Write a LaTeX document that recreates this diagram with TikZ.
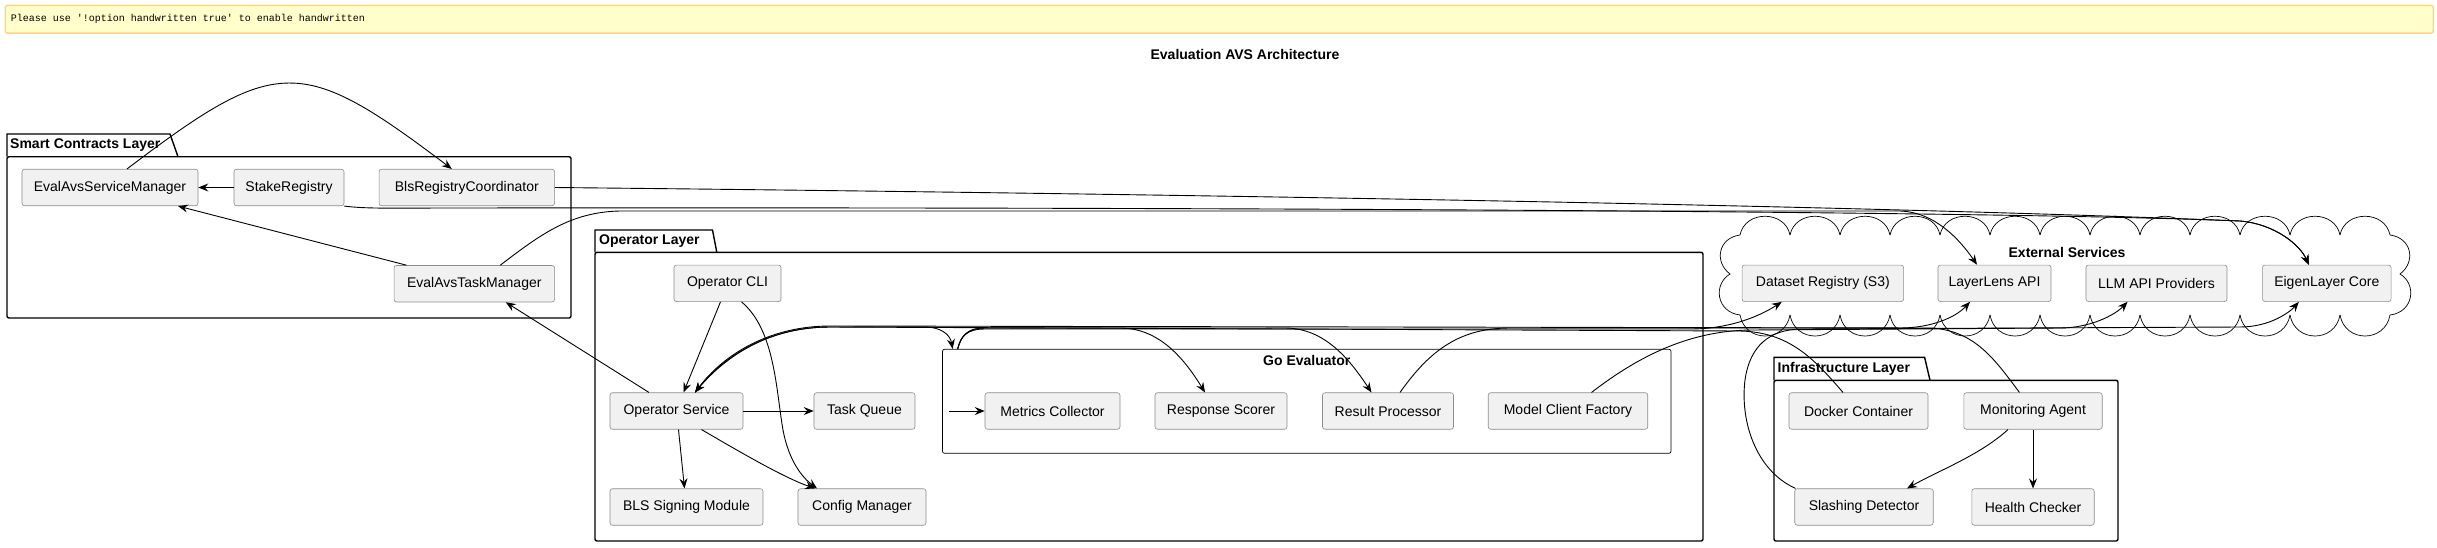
\documentclass[tikz,border=0pt]{standalone}
\usepackage{fontspec}
\setmainfont{Liberation Sans}
\setmonofont{Liberation Mono}
\usetikzlibrary{arrows.meta}
\definecolor{boxfill}{HTML}{F1F1F1}
\definecolor{boxline}{HTML}{8C8C8C}
\definecolor{notefill}{HTML}{FFFFCC}
\definecolor{noteline}{HTML}{FFD784}

\begin{document}
\begin{tikzpicture}[x=1pt, y=-1pt,
  comp/.style={draw=boxline, fill=boxfill, line width=0.6pt, rounded corners=2.5pt, minimum height=36.5pt, inner sep=0pt, font=\fontsize{14}{16}\selectfont},
  pkg/.style={draw, line width=1.4pt},
  ttl/.style={inner sep=0pt, font=\fontsize{14}{16}\selectfont\bfseries},
  puff/.style={line width=0.7pt},
  arr/.style={-{Stealth[length=10pt,width=8pt,inset=3.5pt]}, line width=0.9pt}]
\useasboundingbox (0,0) rectangle (2437,547);

\node[draw=noteline, fill=notefill, line width=1.5pt, rounded corners=2pt, minimum width=2428pt, minimum height=27.6pt, inner sep=0pt, anchor=north west] (note) at (4.5,4.7) {};
\node[anchor=west, inner sep=0pt, font=\ttfamily\fontsize{10}{12}\selectfont] (notetxt) at (10.7,18.5) {Please use '!option handwritten true' to enable handwritten};
\node[ttl] (title) at (1245,54) {Evaluation AVS Architecture};

\draw[pkg] (7,156.7) -- (7,134) -- (170,134) -- (178,156.7);
\draw[pkg, rounded corners=2pt] (7,156.7) rectangle (571,318);
\node[ttl, anchor=west] (smlbl) at (10,145.5) {Smart Contracts Layer};

\draw[pkg] (595,252.3) -- (595,230) -- (712.5,230) -- (716.8,252.3);
\draw[pkg, rounded corners=2pt] (595,252.3) rectangle (1703,541);
\node[ttl, anchor=west] (oplbl) at (599,241.2) {Operator Layer};

\draw[pkg] (1774,380.3) -- (1774,357.3) -- (1924.6,357.3) -- (1930,380.3);
\draw[pkg, rounded corners=2pt] (1774,380.3) rectangle (2118,541);
\node[ttl, anchor=west] (inlbl) at (1777.5,368.8) {Infrastructure Layer};

\node[draw, line width=0.7pt, rounded corners=2pt, minimum width=728.5pt, minimum height=104pt, inner sep=0pt] (goe) at (1306.75,401.3) {};
\node[ttl] (goelbl) at (1306.8,360) {Go Evaluator};

\foreach \i in {0,...,12}
  \draw[puff] (1740+\i*50,235) .. controls +(5,-25) and +(-5,-25) .. +(50,0);
\foreach \i in {0,...,12}
  \draw[puff] (1740+\i*50,315) .. controls +(5,28) and +(-5,28) .. +(50,0);
\draw[puff] (1740,235) .. controls (1718,238) and (1714,262) .. (1730,274) .. controls (1713,284) and (1716,312) .. (1740,315);
\draw[puff] (2390,235) .. controls (2412,238) and (2416,262) .. (2400,274) .. controls (2417,284) and (2414,312) .. (2390,315);
\node[ttl] (exlbl) at (2067,252) {External Services};

\node[comp, minimum width=176pt] (sm) at (110,187.5) {EvalAvsServiceManager};
\node[comp, minimum width=110pt] (sr) at (289,187.5) {StakeRegistry};
\node[comp, minimum width=175.5pt] (brc) at (466.8,187.5) {BlsRegistryCoordinator};
\node[comp, minimum width=160.5pt] (tm) at (474.3,283.7) {EvalAvsTaskManager};

\node[comp, minimum width=107pt] (cli) at (727.5,283.3) {Operator CLI};
\node[comp, minimum width=133pt] (osv) at (676.5,411) {Operator Service};
\node[comp, minimum width=101pt] (tq) at (864.5,411) {Task Queue};
\node[comp, minimum width=153pt] (bls) at (686.5,507) {BLS Signing Module};
\node[comp, minimum width=128pt] (cfg) at (862,507) {Config Manager};

\node[comp, minimum width=135pt] (mc) at (1052.5,411) {Metrics Collector};
\node[comp, minimum width=132pt] (rs) at (1221,411) {Response Scorer};
\node[comp, minimum width=131pt] (rp) at (1388,411) {Result Processor};
\node[comp, minimum width=159.5pt] (mcf) at (1568,411) {Model Client Factory};

\node[comp, minimum width=161.5pt] (ds) at (1822.8,283.3) {Dataset Registry (S3)};
\node[comp, minimum width=113pt] (ll) at (1994.5,283.3) {LayerLens API};
\node[comp, minimum width=141pt] (llm) at (2156.5,283.3) {LLM API Providers};
\node[comp, minimum width=128.5pt] (elc) at (2326.8,283.3) {EigenLayer Core};

\node[comp, minimum width=139pt] (dc) at (1858.5,411) {Docker Container};
\node[comp, minimum width=138.4pt] (ma) at (2033,411) {Monitoring Agent};
\node[comp, minimum width=138.5pt] (sd) at (1864,507) {Slashing Detector};
\node[comp, minimum width=122.4pt] (hc) at (2033,507) {Health Checker};

\path (goe.west |- mc.west) ++(7,0) coordinate (mcin);

\draw[arr] (sr) -- (sm);
\draw[arr] ([xshift=-68pt]tm.north) -- ([xshift=68pt]sm.south);
\draw[arr] ([xshift=17pt]sm.north) .. controls (277,55) and (301,55) .. ([xshift=-15pt]brc.north);
\draw[arr] (brc.east) .. controls (700,189) and (1700,199) .. (2240,221) .. controls (2275,224) and (2300,245) .. ([xshift=-18pt]elc.north);
\draw[arr] (sr.south east) .. controls (365,209) and (400,208) .. (450,208) .. controls (1200,207) and (2000,211) .. (2240,221) .. controls (2275,224) and (2300,245) .. ([xshift=-18pt]elc.north);
\draw[arr] ([xshift=26pt]tm.north) .. controls (540,235) and (570,212) .. (620,211) -- (1900,211) .. controls (1935,212) and (1960,240) .. ([xshift=-17.5pt]ll.north);

\draw[arr] ([xshift=-27.5pt]osv.north) -- ([xshift=31.5pt]tm.south);
\draw[arr] ([xshift=-7pt]cli.south) -- ([xshift=7pt]osv.north);
\draw[arr] ([xshift=14pt]cli.south) .. controls (775,330) and (776,390) .. (783,430) .. controls (789,462) and (803,478) .. ([xshift=-45pt]cfg.north);
\draw[arr] (osv) -- (tq);
\draw[arr] ([xshift=2pt]osv.south) -- ([xshift=-2pt]bls.north);
\draw[arr] ([xshift=25pt]osv.south) .. controls (745,455) and (785,478) .. ([xshift=-47pt]cfg.north);

\draw[arr] ([xshift=-15.5pt]dc.north) .. controls (1815,360) and (1790,332) .. (1740,331) -- (830,327) .. controls (770,327) and (725,355) .. ([xshift=18.5pt]osv.north);
\draw[arr] ([xshift=-13.5pt]ma.north) .. controls (1995,360) and (1975,330) .. (1930,328) -- (830,326) .. controls (770,326) and (724,354) .. ([xshift=18.5pt]osv.north);
\draw[arr] ([xshift=18.5pt]osv.north) .. controls (725,355) and (770,327) .. (830,327) -- (925,327) .. controls (940,327) and (950,334) .. ([xshift=10.5pt]goe.north west);

\draw[arr] (mcin) -- (mc);
\draw[arr] ([xshift=15.5pt]goe.north west) .. controls (961,336) and (967,329) .. (985,329) -- (1690,329) .. controls (1730,329) and (1760,316) .. ([xshift=-41pt]ds.south);
\draw[arr] ([xshift=15.5pt]goe.north west) .. controls (961,336) and (967,328) .. (985,328) -- (1120,328) .. controls (1160,328) and (1185,360) .. ([xshift=-16pt]rs.north);
\draw[arr] ([xshift=15.5pt]goe.north west) .. controls (961,336) and (967,328) .. (985,328) -- (1285,328) .. controls (1325,328) and (1350,360) .. ([xshift=-16.5pt]rp.north);
\draw[arr] ([xshift=12pt]rp.north) .. controls (1430,350) and (1460,328) .. (1510,328) -- (1900,328) .. controls (1930,328) and (1955,318) .. ([xshift=-24.5pt]ll.south);
\draw[arr] ([xshift=23.5pt]mcf.north) .. controls (1640,355) and (1690,331) .. (1750,330) -- (2060,328) .. controls (2090,328) and (2115,315) .. ([xshift=-29pt]llm.south);

\draw[arr] ([xshift=-68.5pt]sd.north) .. controls (1755,470) and (1740,420) .. (1745,380) .. controls (1750,345) and (1770,330) .. (1800,329) -- (2240,327) .. controls (2270,327) and (2290,312) .. ([xshift=-28pt]elc.south);
\draw[arr] ([xshift=-25pt]ma.south) .. controls (1980,455) and (1940,470) .. ([xshift=43pt]sd.north);
\draw[arr] (ma) -- (hc);
\end{tikzpicture}
\end{document}
